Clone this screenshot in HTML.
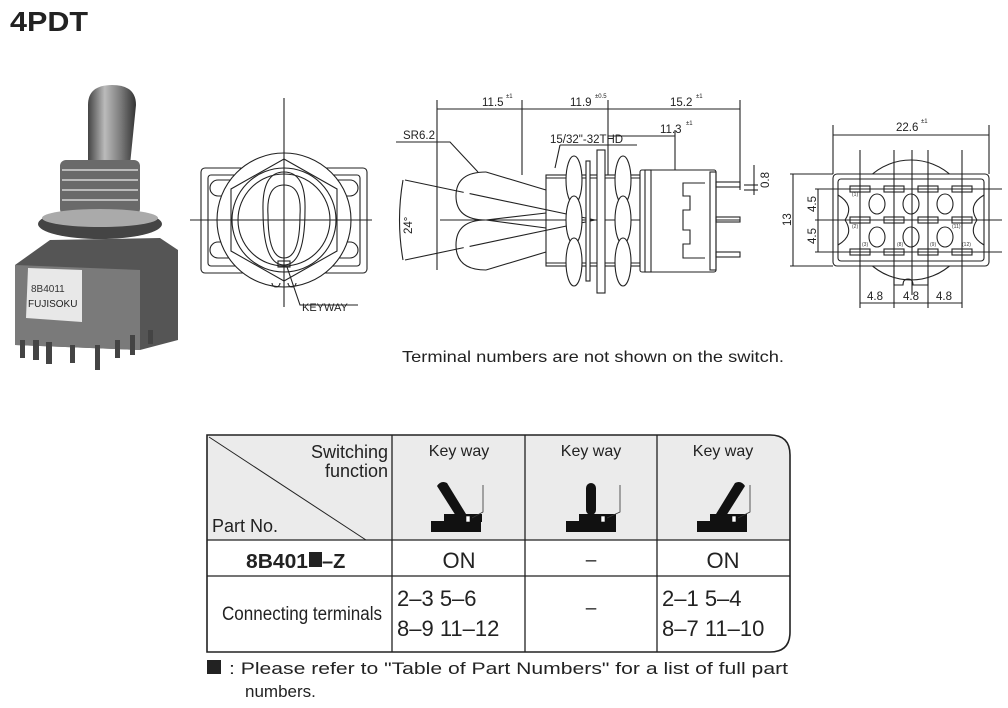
<!DOCTYPE html>
<html><head><meta charset="utf-8"><style>
html,body{margin:0;padding:0;background:#fff;}
body{width:1008px;height:708px;overflow:hidden;position:relative;font-family:"Liberation Sans",sans-serif;}
svg{position:absolute;left:0;top:0;}
</style></head><body>
<svg width="1008" height="708" viewBox="0 0 1008 708" xmlns="http://www.w3.org/2000/svg" font-family="Liberation Sans, sans-serif">
<defs>
<linearGradient id="lv" x1="0" x2="1"><stop offset="0" stop-color="#444"/><stop offset="0.35" stop-color="#bbb"/><stop offset="0.7" stop-color="#777"/><stop offset="1" stop-color="#333"/></linearGradient>
</defs>
<text x="10" y="31" font-size="28" font-weight="bold" fill="#222" textLength="78" lengthAdjust="spacingAndGlyphs">4PDT</text>

<!-- photo -->
<g>
 <path d="M88 165 L88 105 Q88 85 112 85 Q136 85 136 105 L130 165 Z" fill="url(#lv)"/>
 <rect x="60" y="160" width="80" height="55" rx="6" fill="#6a6a6a"/>
 <g stroke="#bbb" stroke-width="2"><line x1="62" y1="170" x2="138" y2="170"/><line x1="62" y1="180" x2="138" y2="180"/><line x1="62" y1="190" x2="138" y2="190"/><line x1="62" y1="200" x2="138" y2="200"/></g>
 <ellipse cx="100" cy="224" rx="62" ry="15" fill="#444"/>
 <ellipse cx="100" cy="218" rx="58" ry="9" fill="#aaa"/>
 <path d="M15 265 L50 240 L160 238 L178 250 L178 340 L140 350 L15 345 Z" fill="#555"/>
 <path d="M15 265 L140 270 L140 350 L15 345 Z" fill="#7a7a7a"/>
 <path d="M28 268 L82 270 L82 322 L26 318 Z" fill="#e8e8e8"/>
 <text x="31" y="292" font-size="10" fill="#333">8B4011</text>
 <text x="28" y="307" font-size="10" fill="#222">FUJISOKU</text>
 <g fill="#444"><rect x="20" y="340" width="5" height="18"/><rect x="33" y="340" width="6" height="20"/><rect x="46" y="342" width="6" height="22"/><rect x="70" y="345" width="5" height="18"/><rect x="95" y="345" width="5" height="25"/><rect x="115" y="340" width="5" height="18"/><rect x="130" y="335" width="5" height="20"/><rect x="148" y="330" width="5" height="14"/></g>
</g>

<g fill="none" stroke="#222" stroke-width="1.1">
 <rect x="201" y="168" width="166" height="105" rx="4"/>
 <rect x="208" y="175" width="152" height="91" rx="3"/>
 <rect x="210" y="180" width="40" height="16" rx="8"/><rect x="318" y="180" width="40" height="16" rx="8"/>
 <rect x="210" y="242" width="40" height="16" rx="8"/><rect x="318" y="242" width="40" height="16" rx="8"/>
 <circle cx="284" cy="220" r="67" fill="#fff"/>
 <polygon points="284,159 337,189 337,251 284,281 231,251 231,189" fill="#fff"/>
 <circle cx="284" cy="220" r="52"/>
 <circle cx="284" cy="220" r="46"/>
 <path d="M263 210 Q262 172 284 172 Q306 172 305 210 Q305 265 284 265 Q263 265 263 210Z"/>
 <path d="M268 215 Q266 185 284 185 Q302 185 300 215 Q300 258 284 258 Q268 258 268 215Z"/>
 <rect x="278" y="261" width="12" height="6"/>
 <path d="M272 283 a4 4 0 0 0 8 0 M288 283 a4 4 0 0 0 8 0"/>
 <line x1="190" y1="220" x2="372" y2="220"/><line x1="284" y1="98" x2="284" y2="307"/>
 <polyline points="287,267 300,305 358,305"/>

 <line x1="437" y1="100" x2="437" y2="270"/><line x1="522" y1="100" x2="522" y2="175"/>
 <line x1="608" y1="100" x2="608" y2="175"/><line x1="740" y1="100" x2="740" y2="190"/>
 <line x1="437" y1="109" x2="740" y2="109"/>
 <line x1="608" y1="136" x2="675" y2="136"/><line x1="675" y1="130" x2="675" y2="172"/>
 <polyline points="396,142 450,142 478,172"/>
 <path d="M486 172 Q456 172 456 196 Q456 220 486 220 Q456 220 456 245 Q456 270 486 270"/>
 <line x1="486" y1="172" x2="546" y2="190"/><line x1="486" y1="270" x2="546" y2="252"/>
 <line x1="486" y1="220" x2="546" y2="213"/><line x1="486" y1="220" x2="546" y2="228"/>
 <line x1="405" y1="180" x2="595" y2="220" stroke-dasharray="60 6 200"/>
 <line x1="405" y1="260" x2="595" y2="220" stroke-dasharray="60 6 200"/>
 <path d="M403 180 Q396 220 403 260"/>
 <line x1="440" y1="220" x2="740" y2="220"/>
 <rect x="546" y="175" width="94" height="91"/>
 <line x1="546" y1="178" x2="640" y2="178"/><line x1="546" y1="263" x2="640" y2="263"/>
 <ellipse cx="574" cy="180" rx="8" ry="24" fill="#fff"/><ellipse cx="574" cy="220" rx="8" ry="24" fill="#fff"/><ellipse cx="574" cy="262" rx="8" ry="24" fill="#fff"/>
 <rect x="586" y="161" width="4" height="120" fill="#fff"/>
 <rect x="597" y="150" width="8" height="143" fill="#fff"/>
 <ellipse cx="623" cy="180" rx="8" ry="24" fill="#fff"/><ellipse cx="623" cy="220" rx="8" ry="24" fill="#fff"/><ellipse cx="623" cy="262" rx="8" ry="24" fill="#fff"/>
 <line x1="555" y1="168" x2="560" y2="145"/><line x1="560" y1="145" x2="637" y2="145"/>
 <rect x="640" y="170" width="76" height="102" rx="2" fill="#fff"/>
 <rect x="645" y="170" width="6" height="102"/>
 <rect x="710" y="172" width="6" height="98"/>
 <polyline points="705,183 683,183 683,196 690,196 690,210 683,210 683,230 690,230 690,244 683,244 683,258 705,258"/>
 <rect x="716" y="182" width="24" height="5"/><rect x="716" y="217" width="24" height="5"/><rect x="716" y="252" width="24" height="5"/>
 <line x1="744" y1="185" x2="758" y2="185"/><line x1="744" y1="190" x2="758" y2="190"/><line x1="754" y1="165" x2="754" y2="195"/>

 <line x1="833" y1="125" x2="833" y2="174"/><line x1="989" y1="125" x2="989" y2="174"/>
 <line x1="833" y1="135" x2="989" y2="135"/>
 <circle cx="911" cy="220" r="60"/>
 <rect x="833" y="174" width="156" height="92" rx="4" fill="#fff"/>
 <rect x="838" y="179" width="146" height="82" rx="3"/>
 <path d="M838 195 Q855 205 845 220 Q855 235 838 245 M984 195 Q967 205 977 220 Q967 235 984 245"/>
 <g fill="#fff">
  <rect x="850" y="186" width="20" height="6"/><rect x="884" y="186" width="20" height="6"/><rect x="918" y="186" width="20" height="6"/><rect x="952" y="186" width="20" height="6"/>
  <rect x="850" y="217" width="20" height="6"/><rect x="884" y="217" width="20" height="6"/><rect x="918" y="217" width="20" height="6"/><rect x="952" y="217" width="20" height="6"/>
  <rect x="850" y="249" width="20" height="6"/><rect x="884" y="249" width="20" height="6"/><rect x="918" y="249" width="20" height="6"/><rect x="952" y="249" width="20" height="6"/>
  <ellipse cx="877" cy="204" rx="8" ry="10"/><ellipse cx="911" cy="204" rx="8" ry="10"/><ellipse cx="945" cy="204" rx="8" ry="10"/>
  <ellipse cx="877" cy="237" rx="8" ry="10"/><ellipse cx="911" cy="237" rx="8" ry="10"/><ellipse cx="945" cy="237" rx="8" ry="10"/>
 </g>
 <path d="M894 270 L894 285 L903 285 Q903 279 908 279 Q913 279 913 285 L928 285 L928 270"/>
 <line x1="860" y1="150" x2="860" y2="308"/><line x1="894" y1="150" x2="894" y2="308"/><line x1="912" y1="150" x2="912" y2="295"/><line x1="928" y1="150" x2="928" y2="308"/><line x1="962" y1="150" x2="962" y2="308"/>
 <line x1="860" y1="303" x2="962" y2="303"/>
 <line x1="815" y1="189" x2="1002" y2="189"/><line x1="815" y1="220" x2="1002" y2="220"/><line x1="815" y1="252" x2="1002" y2="252"/>
 <line x1="790" y1="174" x2="833" y2="174"/><line x1="790" y1="266" x2="833" y2="266"/>
 <line x1="793" y1="174" x2="793" y2="266"/><line x1="818" y1="189" x2="818" y2="252"/>
</g>
<g font-size="11.5" fill="#222">
 <text x="482" y="106">11.5</text><text x="506" y="98" font-size="6">±1</text>
 <text x="570" y="106">11.9</text><text x="595" y="98" font-size="6">±0.5</text>
 <text x="670" y="106">15.2</text><text x="696" y="98" font-size="6">±1</text>
 <text x="660" y="133">11.3</text><text x="686" y="125" font-size="6">±1</text>
 <text x="403" y="139">SR6.2</text>
 <text x="550" y="143">15/32"-32THD</text>
 <text x="302" y="311" font-size="11">KEYWAY</text>
 <text transform="translate(412,234) rotate(-90)">24°</text>
 <text transform="translate(769,188) rotate(-90)">0.8</text>
 <text x="896" y="131">22.6</text><text x="921" y="123" font-size="6">±1</text>
 <text transform="translate(791,226) rotate(-90)">13</text>
 <text transform="translate(816,212) rotate(-90)">4.5</text>
 <text transform="translate(816,244) rotate(-90)">4.5</text>
 <text x="867" y="300">4.8</text><text x="903" y="300">4.8</text><text x="936" y="300">4.8</text>
</g>
<g font-size="5" fill="#333"><text x="852" y="196">(1)</text><text x="852" y="228">(2)</text><text x="862" y="246">(3)</text><text x="897" y="246">(8)</text><text x="930" y="246">(9)</text><text x="962" y="246">(12)</text><text x="952" y="228">(11)</text></g>

<text x="402" y="362" font-size="16" fill="#222" textLength="382" lengthAdjust="spacingAndGlyphs">Terminal numbers are not shown on the switch.</text>

<path d="M207 435 L770 435 Q790 435 790 455 L790 540 L207 540 Z" fill="#ebebeb"/>
<path d="M207 435 L770 435 Q790 435 790 455 L790 632 Q790 652 770 652 L207 652 Z" fill="none" stroke="#222" stroke-width="1.6"/>
<g stroke="#222" stroke-width="1.3">
 <line x1="207" y1="540" x2="790" y2="540"/><line x1="207" y1="576" x2="790" y2="576"/>
 <line x1="392" y1="435" x2="392" y2="652"/><line x1="525" y1="435" x2="525" y2="652"/><line x1="657" y1="435" x2="657" y2="652"/>
 <line x1="209" y1="437" x2="366" y2="540" stroke-width="1"/>
</g>
<g fill="#222" font-size="18">
 <text x="388" y="458" text-anchor="end">Switching</text>
 <text x="388" y="477" text-anchor="end">function</text>
 <text x="212" y="532">Part No.</text>
 <text x="459" y="456" font-size="16" text-anchor="middle">Key way</text>
 <text x="591" y="456" font-size="16" text-anchor="middle">Key way</text>
 <text x="723" y="456" font-size="16" text-anchor="middle">Key way</text>
 <text x="246" y="568" font-size="20" font-weight="bold" textLength="62" lengthAdjust="spacingAndGlyphs">8B401</text>
 <rect x="309" y="552" width="13" height="15"/>
 <text x="322" y="568" font-size="20" font-weight="bold">–Z</text>
 <text x="459" y="568" font-size="22" text-anchor="middle">ON</text>
 <text x="591" y="566" font-size="19" text-anchor="middle">–</text>
 <text x="723" y="568" font-size="22" text-anchor="middle">ON</text>
 <text x="222" y="620" font-size="19" textLength="160" lengthAdjust="spacingAndGlyphs">Connecting terminals</text>
 <text x="397" y="606" font-size="22">2–3 5–6</text>
 <text x="397" y="636" font-size="22">8–9 11–12</text>
 <text x="591" y="614" font-size="19" text-anchor="middle">–</text>
 <text x="662" y="606" font-size="22">2–1 5–4</text>
 <text x="662" y="636" font-size="22">8–7 11–10</text>
</g>
<g fill="#111">
 <rect x="431" y="521" width="50" height="11"/><rect x="444" y="514" width="38" height="8"/>
 <path d="M437 486 Q441 480 447 483 L466 514 L456 516 Z"/>
 <rect x="566" y="521" width="50" height="11"/><rect x="579" y="514" width="37" height="8"/>
 <rect x="586" y="483" width="10" height="32" rx="5"/>
 <rect x="697" y="521" width="50" height="11"/><rect x="710" y="514" width="37" height="8"/>
 <path d="M745 486 Q741 480 735 483 L716 514 L726 516 Z"/>
</g>
<g fill="#fff" stroke="#111" stroke-width="0.6"><rect x="466" y="516" width="4" height="6"/><rect x="601" y="516" width="4" height="6"/><rect x="732" y="516" width="4" height="6"/></g>
<g fill="none" stroke="#333" stroke-width="0.8"><polyline points="483,485 483,512 472,518"/><polyline points="620,485 620,512 607,518"/><polyline points="750,485 750,512 738,518"/></g>

<rect x="207" y="660" width="14" height="14" fill="#222"/>
<text x="229" y="674" font-size="17" fill="#222" textLength="559" lengthAdjust="spacingAndGlyphs">: Please refer to "Table of Part Numbers" for  a list of full part</text>
<text x="245" y="697" font-size="17" fill="#222">numbers.</text>
</svg>
</body></html>
